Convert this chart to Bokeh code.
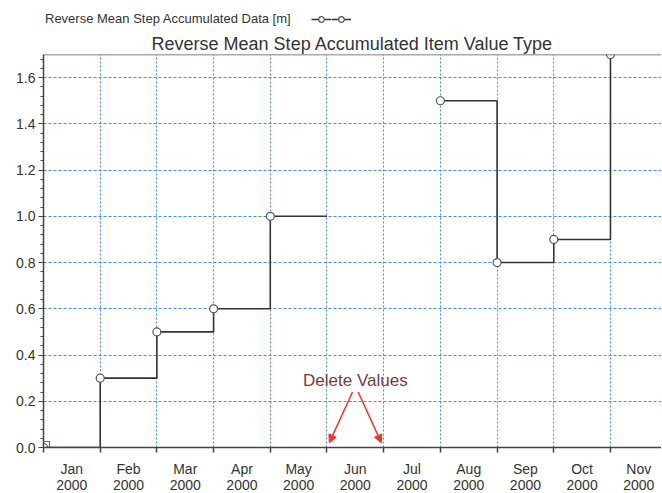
import math
from bokeh.plotting import figure
from bokeh.layouts import column
from bokeh.models import (FixedTicker, LinearAxis, Legend, LegendItem, Label, Arrow,
                          NormalHead, Span, Range1d, Grid, PrintfTickFormatter)
from bokeh.core.properties import value
from bokeh.embed import file_html
from bokeh.resources import INLINE

# ---------------- data ----------------
MONTHS = ["Jan", "Feb", "Mar", "Apr", "May", "Jun", "Jul", "Aug", "Sep", "Oct", "Nov"]
YEARS = ["2000", "2000", "2000", "2000", "2000", "2000", "2000", "2000", "2000", "2000", "2000"]
POINT_MONTH = [0, 1, 2, 3, 4, 5, 6, 7, 8, 9, 10]          # sample at 1st of each month
VALUES = [0.0, 0.3, 0.5, 0.6, 1.0, float("nan"), float("nan"), 1.5, 0.8, 0.9, 1.7]
Y_TICKS = [0.0, 0.2, 0.4, 0.6, 0.8, 1.0, 1.2, 1.4, 1.6]
TITLE = "Reverse Mean Step Accumulated Item Value Type"
SERIES = "Reverse Mean Step Accumulated Data [m]"
NOTE = "Delete Values"

FONT = "Liberation Sans"
GRID_C = "#3f8cff"
AXIS_C = "#444444"
LINE_C = "#333333"
MARK_C = "#555555"
RED = "#e8392b"

W = 661
Y_END = 1.7
X_END = 10.9

# ================= legend strip (text, then line-with-markers) =================
lg = figure(width=W, height=28, x_range=Range1d(0, 1), y_range=Range1d(0, 1),
            x_axis_type=None, y_axis_type=None, toolbar_location=None, output_backend="svg",
            min_border=0, min_border_left=0, min_border_right=0, min_border_top=0,
            min_border_bottom=0, title_location=None, background_fill_color="white",
            border_fill_color="white")
lg.outline_line_color = None
blank = lg.line(x=[-5, -4], y=[-5, -4], line_alpha=0)
lg_line = lg.line(x=[-5, -4], y=[-5, -4], line_color=LINE_C, line_width=1.5)
lg_pts = lg.scatter(x=[-5], y=[-5], size=7, marker="circle", fill_color="white",
                    line_color=MARK_C, line_width=1.2)
legend = Legend(items=[LegendItem(label=value(SERIES), renderers=[blank]),
                       LegendItem(label=value(""), renderers=[blank]),
                       LegendItem(label=value(""), renderers=[lg_line, lg_pts]),
                       LegendItem(label=value(""), renderers=[lg_line, lg_pts])],
                orientation="horizontal", location=(-18, 2), glyph_width=20, glyph_height=14,
                label_standoff=0, spacing=0, padding=2, margin=0,
                border_line_color=None, background_fill_alpha=0,
                label_text_font=FONT, label_text_font_size="13px",
                label_text_color="#333333", label_height=14, label_width=0)
lg.add_layout(legend)

# ================= main chart =================
p = figure(width=W, height=464, x_range=Range1d(0, X_END), y_range=Range1d(0, Y_END),
           x_axis_type=None, toolbar_location=None, output_backend="svg",
           min_border_left=43, min_border_right=0, min_border_top=26, min_border_bottom=45,
           background_fill_color="white", border_fill_color="white")
p.outline_line_color = None

p.title.text = TITLE
p.title.text_font = FONT
p.title.text_font_size = "18px"
p.title.text_font_style = "normal"
p.title.text_color = "#333333"
p.title.align = "center"
p.title.standoff = 2

# ---------------- x axes ----------------
half = [i + 0.5 for i in range(len(MONTHS))]
bounds = list(range(len(MONTHS) + 1))
ax1 = LinearAxis(ticker=FixedTicker(ticks=half, minor_ticks=bounds),
                 major_label_overrides={h: m for h, m in zip(half, MONTHS)},
                 axis_line_color=AXIS_C, axis_line_width=1.5,
                 major_tick_line_color=None, major_tick_out=5, major_tick_in=0,
                 minor_tick_line_color=AXIS_C, minor_tick_line_width=1.5,
                 minor_tick_out=5, minor_tick_in=0,
                 major_label_standoff=8, major_label_text_font=FONT,
                 major_label_text_font_size="14px", major_label_text_color="#333333")
ax2 = LinearAxis(ticker=FixedTicker(ticks=half, minor_ticks=[]),
                 major_label_overrides={h: y for h, y in zip(half, YEARS)},
                 axis_line_color=None, major_tick_line_color=None, minor_tick_line_color=None,
                 major_tick_out=0, major_tick_in=0, major_label_standoff=0,
                 major_label_text_font=FONT, major_label_text_font_size="14px",
                 major_label_text_color="#333333")
p.add_layout(ax1, "below")
p.add_layout(ax2, "below")

# ---------------- y axis ----------------
minor_y = [round(k * 0.04, 2) for k in range(int(Y_END / 0.04) + 1)]
yax = p.yaxis[0]
yax.ticker = FixedTicker(ticks=Y_TICKS, minor_ticks=minor_y)
yax.formatter = PrintfTickFormatter(format="%.1f")
yax.axis_line_color = AXIS_C
yax.axis_line_width = 1.5
yax.major_tick_line_color = AXIS_C
yax.major_tick_out = 5
yax.major_tick_in = 0
yax.minor_tick_line_color = AXIS_C
yax.minor_tick_out = 3
yax.minor_tick_in = 0
yax.major_label_standoff = 3
yax.major_label_text_font = FONT
yax.major_label_text_font_size = "14px"
yax.major_label_text_color = "#333333"

# ---------------- grids ----------------
p.ygrid[0].ticker = FixedTicker(ticks=Y_TICKS)
p.ygrid[0].grid_line_color = GRID_C
p.ygrid[0].grid_line_dash = "3 2"
p.ygrid[0].grid_line_width = 1
xgrid = Grid(dimension=0, ticker=FixedTicker(ticks=bounds[1:]),
             grid_line_color=GRID_C, grid_line_dash="2 2", grid_line_width=1)
p.add_layout(xgrid)

# top frame border
p.add_layout(Span(location=Y_END, dimension="width", line_color="#555555", line_width=1.5))

# ---------------- step line ----------------
xs, ys = [], []
for i in range(len(VALUES) - 1):
    v0, v1 = VALUES[i], VALUES[i + 1]
    if math.isnan(v0):
        continue
    x0, x1 = POINT_MONTH[i], POINT_MONTH[i + 1]
    if math.isnan(v1):
        xs.append([x0, x1]); ys.append([v0, v0])
    else:
        xs.append([x0, x1, x1]); ys.append([v0, v0, v1])
p.multi_line(xs=xs, ys=ys, line_color=LINE_C, line_width=1.6)

px = [m for m, v in zip(POINT_MONTH, VALUES) if not math.isnan(v)]
py = [v for v in VALUES if not math.isnan(v)]
p.scatter(x=px, y=py, size=8, marker="circle", fill_color="white",
          line_color=MARK_C, line_width=1.2)
p.scatter(x=[px[0]], y=[py[0]], size=12, marker="square", fill_color=None,
          line_color=RED, line_width=1.2)

# ---------------- annotation ----------------
deleted = [m for m, v in zip(POINT_MONTH, VALUES) if math.isnan(v)]
mid = (deleted[0] + deleted[-1]) / 2.0
p.add_layout(Label(x=mid, y=0.29, text=NOTE, text_align="center", text_baseline="middle",
                   text_font=FONT, text_font_size="17px", text_color="#743c3c"))
for k in deleted:
    sx = mid - 0.05 if k < mid else mid + 0.05
    ex = k + 0.04 if k < mid else k - 0.04
    p.add_layout(Arrow(end=NormalHead(size=8, fill_color=RED, line_color=RED),
                       x_start=sx, y_start=0.24, x_end=ex, y_end=0.02,
                       line_color=RED, line_width=1.5))

open("out.html", "w").write(file_html(column(lg, p), INLINE))
